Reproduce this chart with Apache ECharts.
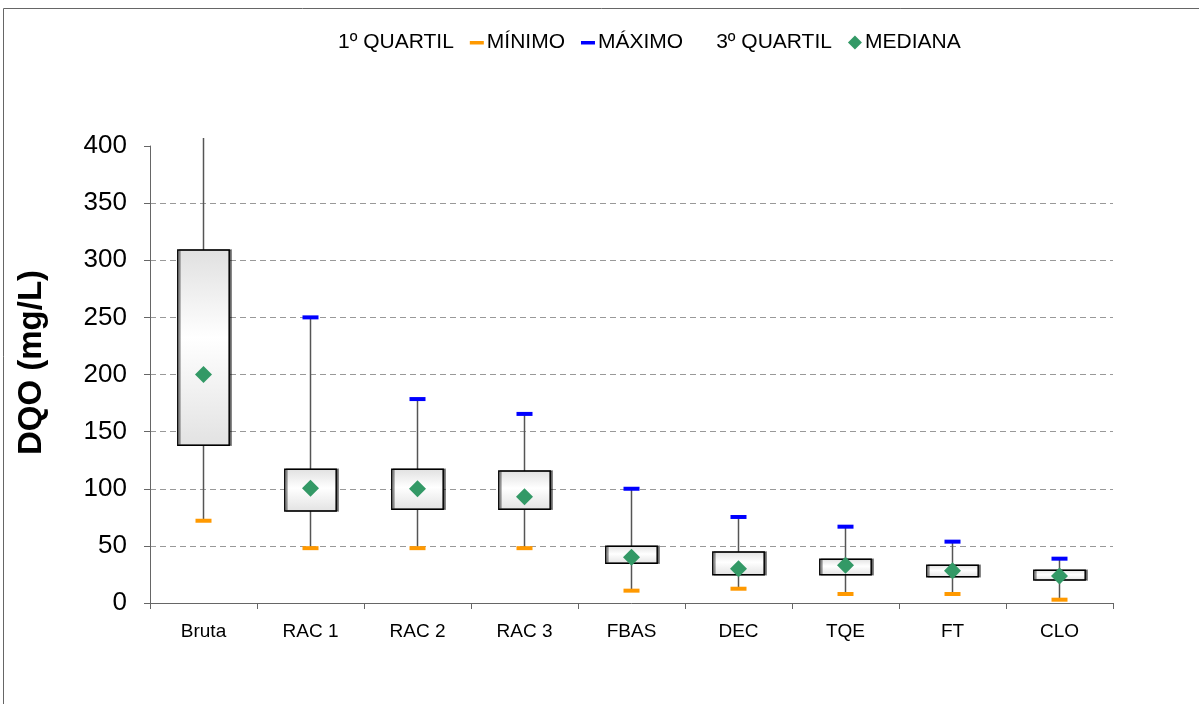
<!DOCTYPE html>
<html>
<head>
<meta charset="utf-8">
<script src="https://cdn.jsdelivr.net/npm/echarts@6/dist/echarts.min.js"></script>
<style>
  html, body { margin: 0; padding: 0; background: #fff; }
  #chart { width: 1199px; height: 704px; }
</style>
</head>
<body>
<div id="chart"></div>
<script>
// DQO por etapa de tratamento
const categories = ['Bruta', 'RAC 1', 'RAC 2', 'RAC 3', 'FBAS', 'DEC', 'TQE', 'FT', 'CLO'];
const minimo   = [72, 48, 48, 48, 10.8, 12.5, 7.9, 7.9, 2.9];
const quartil1 = [138, 80.5, 82, 82, 34.7, 24.8, 24.8, 23, 20.1];
const mediana  = [200, 100.5, 100, 93, 40, 30, 33, 28.3, 23.6];
const quartil3 = [309, 117, 117, 115.5, 49.6, 44.6, 38.2, 33, 28.6];
const maximo   = [407, 250, 178.5, 165.5, 100, 75.3, 66.8, 53.7, 38.8];
const yTicks = { min: 0, max: 400, interval: 50 };

const font = 'Liberation Sans, Arial, sans-serif';
const chart = echarts.init(document.getElementById('chart'));

const boxData = categories.map((c, i) => [i, minimo[i], quartil1[i], quartil3[i], maximo[i]]);

// dash icon with a 14x14 bounding box so it isn't stretched
const dashIcon = 'path://M0,0h0.01v0.01h-0.01z M0,5.5h14v3.5h-14z M13.99,13.99h0.01v0.01h-0.01z';

chart.setOption({
    animation: false,
    textStyle: { fontFamily: font },
    graphic: [{
        type: 'rect',
        shape: { x: 3.5, y: 8.5, width: 1300, height: 800 },
        style: { fill: 'none', stroke: '#666', lineWidth: 1 },
        silent: true
    }],
    legend: {
        top: 27,
        left: 316,
        itemWidth: 14,
        itemHeight: 14,
        itemGap: 16,
        textStyle: { fontFamily: font, fontSize: 21, color: '#000', padding: [0, 0, 0, -2] },
        selectedMode: false,
        data: [
            { name: '1º QUARTIL', icon: 'none' },
            { name: 'MÍNIMO', icon: dashIcon },
            { name: 'MÁXIMO', icon: dashIcon },
            { name: '3º QUARTIL', icon: 'none' },
            { name: 'MEDIANA', icon: 'diamond' }
        ]
    },
    grid: { left: 150, right: 86, top: 146, bottom: 101, containLabel: false },
    xAxis: {
        type: 'category',
        data: categories,
        boundaryGap: true,
        axisLine: { lineStyle: { color: '#666', width: 1 } },
        axisTick: { show: true, length: 6, alignWithLabel: false, lineStyle: { color: '#666' } },
        axisLabel: { color: '#000', fontSize: 19, margin: 19, fontFamily: font },
        splitLine: { show: false }
    },
    yAxis: {
        type: 'value',
        min: yTicks.min,
        max: yTicks.max,
        interval: yTicks.interval,
        name: 'DQO (mg/L)',
        nameLocation: 'middle',
        nameGap: 102,
        nameTextStyle: { fontSize: 33, fontWeight: 'bold', color: '#000', fontFamily: font, padding: [0, 0, 0, 24] },
        axisLine: { show: true, lineStyle: { color: '#666', width: 1 } },
        axisTick: { show: true, length: 6, lineStyle: { color: '#666' } },
        axisLabel: { color: '#000', fontSize: 26, margin: 23, fontFamily: font },
        splitLine: {
            show: true,
            showMinLine: false,
            showMaxLine: false,
            lineStyle: { color: '#999', type: [6, 4], width: 1 }
        }
    },
    series: [{
        name: '1º QUARTIL',
        type: 'custom',
        data: [],
        renderItem: () => null
    }, {
        name: '3º QUARTIL',
        type: 'custom',
        clip: false,
        z: 2,
        data: boxData,
        encode: { x: 0, y: [1, 2, 3, 4] },
        renderItem: (params, api) => {
            const x = api.value(0);
            const pMin = api.coord([x, api.value(1)]);
            const pQ1 = api.coord([x, api.value(2)]);
            const pQ3 = api.coord([x, api.value(3)]);
            const pMax = api.coord([x, api.value(4)]);
            const w = api.size([1, 0])[0] * 0.48;
            const line = { stroke: '#555', lineWidth: 1.5 };
            return {
                type: 'group',
                children: [
                    { type: 'line', shape: { x1: pMin[0], y1: pMin[1], x2: pQ1[0], y2: pQ1[1] }, style: line },
                    { type: 'line', shape: { x1: pQ3[0], y1: pQ3[1], x2: pMax[0], y2: pMax[1] }, style: line },
                    {
                        type: 'rect',
                        shape: { x: pQ3[0] - w / 2, y: pQ3[1], width: w, height: pQ1[1] - pQ3[1] },
                        style: {
                            fill: new echarts.graphic.LinearGradient(0, 0, 0, 1, [
                                { offset: 0, color: '#e0e0e0' },
                                { offset: 0.45, color: '#ffffff' },
                                { offset: 1, color: '#e2e2e2' }
                            ]),
                            stroke: '#000',
                            lineWidth: 1.5,
                            shadowColor: 'rgba(0,0,0,0.45)',
                            shadowOffsetX: 2,
                            shadowOffsetY: 0,
                            shadowBlur: 0
                        }
                    }
                ]
            };
        }
    }, {
        name: 'MÍNIMO',
        type: 'scatter',
        z: 5,
        symbol: 'rect',
        symbolSize: [16, 4],
        itemStyle: { color: '#ff9900', opacity: 1 },
        data: minimo
    }, {
        name: 'MÁXIMO',
        type: 'scatter',
        z: 5,
        symbol: 'rect',
        symbolSize: [16, 4],
        clip: true,
        itemStyle: { color: '#0000ff', opacity: 1 },
        data: maximo
    }, {
        name: 'MEDIANA',
        type: 'scatter',
        z: 6,
        symbol: 'diamond',
        symbolSize: [17, 17],
        itemStyle: { color: '#339966', opacity: 1 },
        data: mediana
    }]
});
</script>
</body>
</html>
